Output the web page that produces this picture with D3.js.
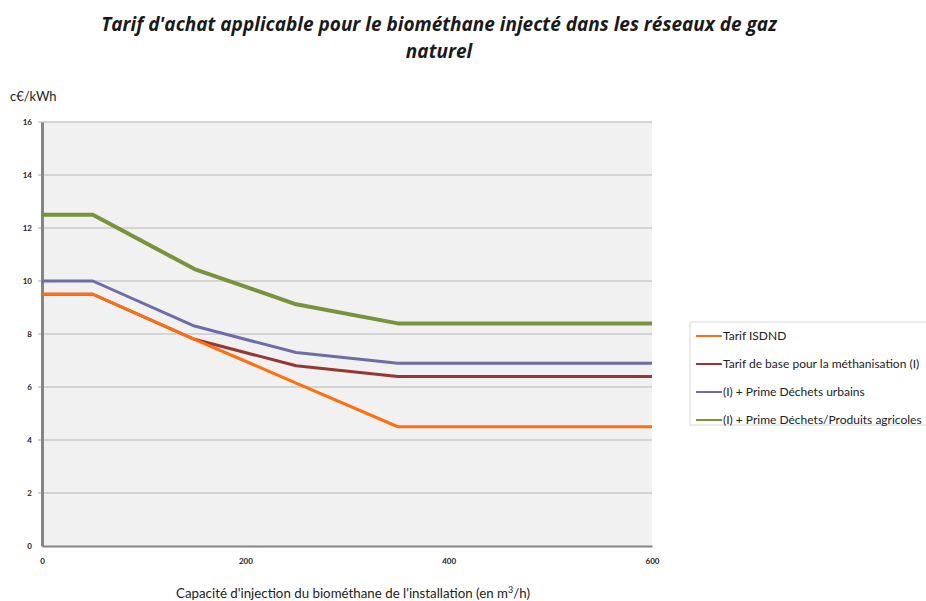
<html>
<head>
<meta charset="utf-8">
<title>Tarif d'achat biométhane</title>
<script src="https://cdn.jsdelivr.net/npm/d3@7"></script>
<style>
  body { margin: 0; background: #fff; }
  text { font-family: Lato, "Open Sans", sans-serif; }
</style>
</head>
<body>
<div id="chart"></div>
<script>
// capacities (m3/h) and tariffs (c€/kWh)
var capacites = [0, 50, 150, 250, 350, 600];
var isdnd    = [9.5, 9.5, 7.8, 6.15, 4.5, 4.5];
var base     = [9.5, 9.5, 7.8, 6.8, 6.4, 6.4];
var urbains  = [10, 10, 8.3, 7.3, 6.9, 6.9];
var agricole = [12.5, 12.5, 10.45, 9.12, 8.4, 8.4];

var seriesNames = ["Tarif ISDND", "Tarif de base pour la méthanisation (I)",
                   "(I) + Prime Déchets urbains", "(I) + Prime Déchets/Produits agricoles"];
var colors = ["#ff6f0f", "#953735", "#6e6ca8", "#77933c"];
var widths = [3, 3, 3, 4];
var yTicks = [0, 2, 4, 6, 8, 10, 12, 14, 16];
var xTicks = [0, 200, 400, 600];

var width = 926, height = 601;

var svg = d3.select("#chart").append("svg")
    .attr("width", width)
    .attr("height", height);

var x = d3.scaleLinear().domain([0, 600]).range([42, 652]);
var y = d3.scaleLinear().domain([0, 16]).range([546, 122]);

// title
svg.append("text")
    .attr("x", 439).attr("y", 31)
    .attr("text-anchor", "middle")
    .style("font-family", "'Open Sans', sans-serif")
    .style("font-size", "19px").style("font-style", "italic").style("font-weight", "bold")
    .attr("fill", "#1a1a1a")
    .text("Tarif d'achat applicable pour le biométhane injecté dans les réseaux de gaz");
svg.append("text")
    .attr("x", 439).attr("y", 58)
    .attr("text-anchor", "middle")
    .style("font-family", "'Open Sans', sans-serif")
    .style("font-size", "19px").style("font-style", "italic").style("font-weight", "bold")
    .attr("fill", "#1a1a1a")
    .text("naturel");

// plot background
svg.append("rect")
    .attr("x", x(0)).attr("y", y(16))
    .attr("width", x(600) - x(0)).attr("height", y(0) - y(16))
    .attr("fill", "#f1f1f1");

// gridlines
svg.append("g").selectAll("line")
    .data(yTicks.filter(function(d) { return d > 0; }))
    .enter().append("line")
    .attr("x1", x(0) - 4).attr("x2", x(600))
    .attr("y1", function(d) { return y(d); })
    .attr("y2", function(d) { return y(d); })
    .attr("stroke", "#d4d4d4").attr("stroke-width", 2);

// axes
var yAxis = svg.append("g")
    .attr("transform", "translate(" + x(0) + ",0)")
    .call(d3.axisLeft(y).tickValues(yTicks).tickSize(0).tickPadding(10));
var xAxis = svg.append("g")
    .attr("transform", "translate(0," + y(0) + ")")
    .call(d3.axisBottom(x).tickValues(xTicks).tickSize(0).tickPadding(12));
yAxis.select(".domain").attr("stroke", "#858585").attr("stroke-width", 3);
xAxis.select(".domain").attr("stroke", "#858585").attr("stroke-width", 2);
svg.selectAll(".tick text")
    .style("font-size", "8px").style("font-weight", "bold")
    .style("font-family", "Lato, sans-serif").attr("fill", "#222");

// axis titles
svg.append("text")
    .attr("x", 10).attr("y", 101)
    .style("font-size", "13px").attr("fill", "#222")
    .text("c€/kWh");
var xt = svg.append("text")
    .attr("x", 353).attr("y", 598)
    .attr("text-anchor", "middle")
    .style("font-size", "13.3px").attr("fill", "#222");
xt.append("tspan").text("Capacité d'injection du biométhane de l'installation (en m");
xt.append("tspan").attr("dy", -5).style("font-size", "9px").text("3");
xt.append("tspan").attr("dy", 5).text("/h)");

// lines
var series = [isdnd, base, urbains, agricole];
var line = d3.line()
    .x(function(d, i) { return x(capacites[i]); })
    .y(function(d) { return y(d); });

// draw green first so the others sit on top like in the original
[3, 2, 1, 0].forEach(function(k) {
    svg.append("path")
        .datum(series[k])
        .attr("fill", "none")
        .attr("stroke", colors[k])
        .attr("stroke-width", widths[k])
        .attr("stroke-linejoin", "round")
        .attr("d", line);
});

// legend
var legend = svg.append("g");
legend.append("rect")
    .attr("x", 690).attr("y", 322)
    .attr("width", 250).attr("height", 103)
    .attr("fill", "#fff").attr("stroke", "#d9d9d9").attr("stroke-width", 1);
var legY = [336, 364, 392, 420];
seriesNames.forEach(function(name, i) {
    legend.append("line")
        .attr("x1", 696).attr("x2", 722)
        .attr("y1", legY[i]).attr("y2", legY[i])
        .attr("stroke", colors[i]).attr("stroke-width", 2);
    legend.append("text")
        .attr("x", 723).attr("y", legY[i] + 4)
        .style("font-size", "12px").attr("fill", "#222")
        .text(name);
});
</script>
</body>
</html>
